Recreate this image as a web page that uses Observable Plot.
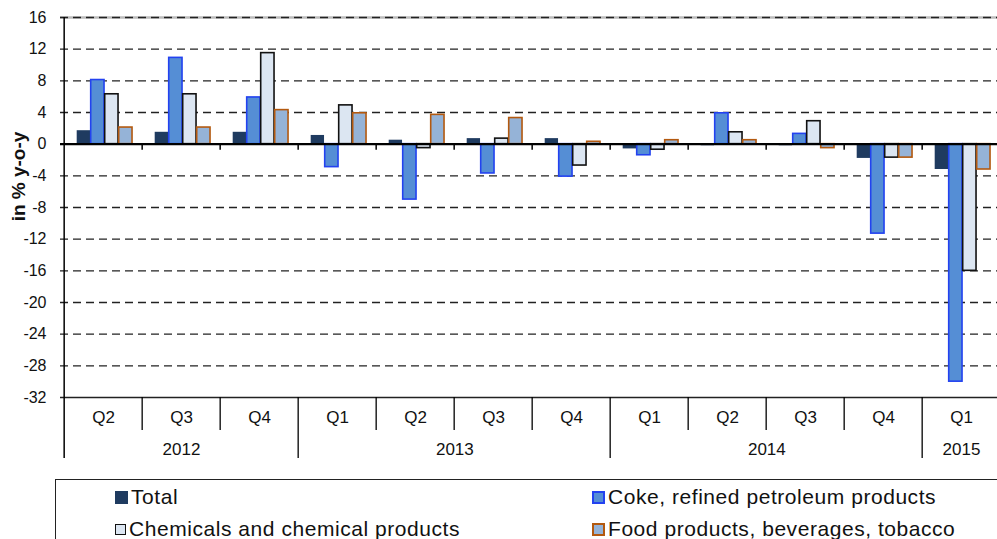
<!DOCTYPE html>
<html>
<head>
<meta charset="utf-8">
<script src="https://cdn.jsdelivr.net/npm/d3@7"></script>
<script src="https://cdn.jsdelivr.net/npm/@observablehq/plot@0.6"></script>
<style>
  html, body { margin: 0; padding: 0; background: #fff; overflow: hidden; width: 997px; height: 539px; }
  #chart { position: relative; }
  #chart svg { display: block; }
  .legend { position: absolute; left: 55px; top: 479px; width: 1000px; height: 100px; border: 1.5px solid #222; box-sizing: border-box; font-family: "Liberation Sans", Arial, sans-serif; font-size: 21px; letter-spacing: 0.55px; color: #111; }
  .item { position: absolute; display: flex; align-items: center; height: 24px; white-space: nowrap; }
  .sw { display: inline-block; box-sizing: border-box; margin-right: 3px; }
</style>
</head>
<body>
<div id="chart"></div>
<script>
const quarters = ["Q2","Q3","Q4","Q1","Q2","Q3","Q4","Q1","Q2","Q3","Q4","Q1"];
const years    = ["2012","2012","2012","2013","2013","2013","2013","2014","2014","2014","2014","2015"];
const seriesNames = ["Total","Coke, refined petroleum products","Chemicals and chemical products","Food products, beverages, tobacco"];
const total = [1.7, 1.5, 1.5, 1.1, 0.5, 0.7, 0.7, -0.6, -0.2, -0.2, -1.8, -3.2];
const coke  = [8.1, 10.9, 5.9, -2.9, -7.0, -3.7, -4.1, -1.4, 3.9, 1.3, -11.3, -30.0];
const chem  = [6.3, 6.3, 11.5, 4.9, -0.5, 0.7, -2.7, -0.7, 1.5, 2.9, -1.7, -16.0];
const food  = [2.1, 2.1, 4.3, 3.9, 3.7, 3.3, 0.3, 0.5, 0.5, -0.5, -1.7, -3.2];
const yTicks = [-32,-28,-24,-20,-16,-12,-8,-4,0,4,8,12,16];

const keys = quarters.map((q, i) => `${q} ${years[i]}`);
const allValues = [total, coke, chem, food];
const fills   = ["#1F3B60", "#558ED5", "#DCE6F2", "#95B3D7"];
const strokes = ["none", "#2342F0", "#111111", "#B3590F"];

const rows = [];
seriesNames.forEach((s, si) => allValues[si].forEach((v, i) => rows.push({series: s, si, key: keys[i], value: v})));

const W = 997, H = 470, plotLeft = 60, plotRight = 1004, plotTop = 17, plotBottom = 397;
const bw = (plotRight - plotLeft) / keys.length;
const off = 12.7, barW = 14;

const groups = [];
years.forEach((y, i) => {
  let g = groups.find(d => d.year === y);
  if (!g) { g = {year: y, keys: []}; groups.push(g); }
  g.keys.push(keys[i]);
});
const oddGroups = groups.filter(g => g.keys.length % 2 === 1).map(g => ({year: g.year, key: g.keys[(g.keys.length - 1) / 2]}));
const evenGroups = groups.filter(g => g.keys.length % 2 === 0).map(g => ({year: g.year, key: g.keys[g.keys.length / 2 - 1]}));
const yearStarts = groups.map(g => g.keys[0]);

const gridVals = yTicks.filter(t => t !== 0 && t !== -32 && t !== 16);

const marks = [
  Plot.ruleY([16], {stroke: "#bbb", strokeWidth: 2.5}),
  Plot.ruleY([16], {stroke: "#222", strokeWidth: 1.3, strokeDasharray: "8,5"}),
  Plot.ruleY(gridVals, {stroke: "#222", strokeWidth: 1.3, strokeDasharray: "8,5"}),
  Plot.ruleY([-32], {stroke: "#222", strokeWidth: 1.5}),
];
seriesNames.forEach((s, si) => {
  marks.push(Plot.barY(rows.filter(d => d.si === si), {
    x: "key", y: "value",
    fill: fills[si], stroke: strokes[si], strokeWidth: si === 0 ? 0 : 1.6,
    insetLeft: off + barW * si, insetRight: bw - off - barW * (si + 1)
  }));
});
marks.push(
  Plot.ruleY([0], {stroke: "#000", strokeWidth: 2.2}),
  Plot.ruleX(keys.slice(1), {x: d => d, y1: 0, y2: 0, dx: -bw / 2, insetBottom: -6, stroke: "#000", strokeWidth: 1.5}),
  Plot.ruleX([keys[0]], {x: d => d, dx: -bw / 2, insetBottom: -61, stroke: "#000", strokeWidth: 1.5}),
  Plot.ruleX(keys.slice(1).filter(k => !yearStarts.includes(k)), {x: d => d, dx: -bw / 2, insetTop: plotBottom - plotTop, insetBottom: -33, stroke: "#000", strokeWidth: 1.3}),
  Plot.ruleX(yearStarts.slice(1), {x: d => d, dx: -bw / 2, insetTop: plotBottom - plotTop, insetBottom: -61, stroke: "#000", strokeWidth: 1.3}),
  Plot.text(keys.map((k, i) => ({key: k, q: quarters[i]})), {x: "key", text: "q", frameAnchor: "bottom", dy: 20, fontSize: 17, fill: "#111", lineAnchor: "middle"}),
  Plot.text(oddGroups, {x: "key", text: "year", frameAnchor: "bottom", dy: 52, fontSize: 17, fill: "#111", lineAnchor: "middle"}),
  Plot.text(evenGroups, {x: "key", text: "year", frameAnchor: "bottom", dy: 52, dx: bw / 2, fontSize: 17, fill: "#111", lineAnchor: "middle"}),
  Plot.text(["in % y-o-y"], {frameAnchor: "top-left", dx: -42, dy: 159, rotate: -90, textAnchor: "middle", lineAnchor: "middle", fontSize: 19, fontWeight: "bold", fill: "#111"}),
  Plot.axisY({ticks: yTicks, tickSize: 0, tickPadding: 14, fontSize: 16, tickFormat: d => String(d), label: null, fill: "#111"})
);

const chart = Plot.plot({
  width: W, height: H,
  marginLeft: plotLeft, marginRight: 0, marginTop: plotTop, marginBottom: H - plotBottom,
  style: {fontFamily: "'Liberation Sans', Arial, sans-serif", background: "#fff", overflow: "visible"},
  x: {type: "band", domain: keys, range: [plotLeft, plotRight], padding: 0, axis: null},
  y: {domain: [-32, 16], range: [plotBottom, plotTop]},
  marks
});
document.getElementById("chart").appendChild(chart);

const legend = document.createElement("div");
legend.className = "legend";
const pos = [[59, 5], [536, 5], [59, 37], [536, 37]];
seriesNames.forEach((s, si) => {
  const it = document.createElement("div");
  it.className = "item";
  it.style.left = pos[si][0] + "px";
  it.style.top = pos[si][1] + "px";
  const sw = document.createElement("span");
  sw.className = "sw";
  const size = si === 2 ? 11 : 13;
  sw.style.width = size + "px"; sw.style.height = size + "px";
  sw.style.background = fills[si];
  if (si > 0) sw.style.border = `2px solid ${strokes[si]}`;
  if (si === 2) sw.style.border = "1.5px solid #111";
  it.appendChild(sw);
  const tx = document.createElement("span");
  tx.textContent = s;
  it.appendChild(tx);
  legend.appendChild(it);
});
document.getElementById("chart").appendChild(legend);
</script>
</body>
</html>
